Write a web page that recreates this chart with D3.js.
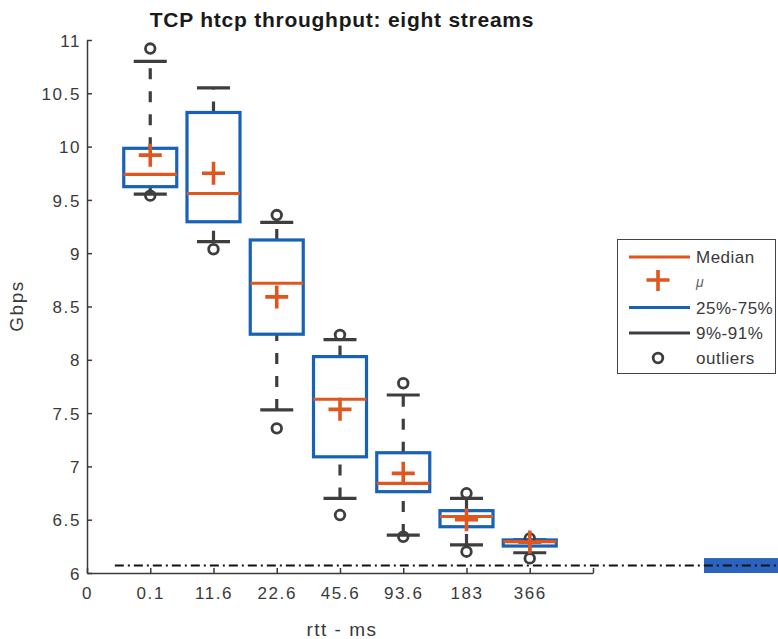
<!DOCTYPE html>
<html>
<head>
<meta charset="utf-8">
<script src="https://cdn.jsdelivr.net/npm/d3@7"></script>
<style>
  html, body { margin: 0; padding: 0; background: #fff; }
  svg { display: block; }
  text { font-family: "Liberation Sans", Arial, Helvetica, sans-serif; }
</style>
</head>
<body>
<svg id="chart" width="778" height="639"></svg>
<script>
// ---- data ----
const categories = ["0.1", "11.6", "22.6", "45.6", "93.6", "183", "366"];
const xTickLabels = ["0", "0.1", "11.6", "22.6", "45.6", "93.6", "183", "366", ""];
const yTicks = [6, 6.5, 7, 7.5, 8, 8.5, 9, 9.5, 10, 10.5, 11];
const q1Values     = [9.624, 9.295, 8.24, 7.09, 6.763, 6.434, 6.253];
const q3Values     = [9.984, 10.32, 9.124, 8.03, 7.128, 6.585, 6.31];
const medianValues = [9.74, 9.56, 8.718, 7.63, 6.84, 6.53, 6.294];
const meanValues   = [9.92, 9.75, 8.59, 7.535, 6.935, 6.5, 6.29];
const whiskerLow   = [9.555, 9.108, 7.53, 6.70, 6.356, 6.263, 6.19];
const whiskerHigh  = [10.80, 10.55, 9.29, 8.19, 7.67, 6.70, 6.31];
const outlierValues = [[10.92, 9.54], [9.037], [9.358, 7.357], [8.233, 6.544], [7.78, 6.34], [6.748, 6.20], [6.325, 6.137]];
const refLineValue = 6.07;
const refLineRange = [0.44, 11];
const patchRange = [9.755, 11];
const patchValues = [6, 6.14];
const legendLabels = ["Median", "\u03bc", "25%-75%", "9%-91%", "outliers"];

// ---- styles ----
const ORANGE = "#e0561f", BLUE = "#1862b6", GRAY = "#3e3e3e", AXIS = "#3a3a3a";

const svg = d3.select("#chart");
const x = d3.scaleLinear().domain([0, 8]).range([87, 593]);
const y = d3.scaleLinear().domain([6, 11]).range([573, 40]);

// axes
const xAxis = d3.axisBottom(x).tickValues(d3.range(0, 9)).tickFormat(i => xTickLabels[i]).tickSizeInner(-5).tickSizeOuter(0).tickPadding(14);
const yAxis = d3.axisLeft(y).tickValues(yTicks).tickFormat(d => d3.format("")(d)).tickSizeInner(-5).tickSizeOuter(0).tickPadding(8);

const gx = svg.append("g").attr("transform", `translate(0,${y(6)})`).call(xAxis);
const gy = svg.append("g").attr("transform", `translate(${x(0)},0)`).call(yAxis);
[gx, gy].forEach(g => {
  g.select(".domain").attr("stroke", AXIS).attr("stroke-width", 1.5);
  g.selectAll(".tick line").attr("stroke", AXIS).attr("stroke-width", 1.5);
  g.selectAll(".tick text").attr("fill", "#3a3a3a").attr("font-size", 17).attr("letter-spacing", 1.6)
    .attr("font-family", '"Liberation Sans", Arial, sans-serif');
});
gy.selectAll(".tick text").attr("x", -6).attr("dy", "0.36em");
gx.selectAll(".tick text").attr("dy", "0.71em");

// reference dash-dot line and patch
svg.append("rect")
  .attr("x", x(patchRange[0])).attr("y", y(patchValues[1]))
  .attr("width", x(patchRange[1]) - x(patchRange[0]))
  .attr("height", y(patchValues[0]) - y(patchValues[1]))
  .attr("fill", "#2b63be");
svg.append("line")
  .attr("x1", x(refLineRange[0])).attr("x2", x(refLineRange[1]))
  .attr("y1", y(refLineValue)).attr("y2", y(refLineValue))
  .attr("stroke", "#111").attr("stroke-width", 2)
  .attr("stroke-dasharray", "9,4,2,4");

// boxes
const boxHalf = 26.5, capHalf = 16.5;
const data = categories.map((c, i) => ({
  i, pos: i + 1, q1: q1Values[i], q3: q3Values[i], med: medianValues[i], mean: meanValues[i],
  lo: whiskerLow[i], hi: whiskerHigh[i], out: outlierValues[i]
}));

const g = svg.append("g");
data.forEach(d => {
  const cx = x(d.pos);
  // whiskers
  g.append("line").attr("x1", cx).attr("x2", cx).attr("y1", y(d.q3)).attr("y2", y(d.hi))
    .attr("stroke", GRAY).attr("stroke-width", 3.2).attr("stroke-dasharray", "11,12");
  g.append("line").attr("x1", cx).attr("x2", cx).attr("y1", y(d.lo)).attr("y2", y(d.q1))
    .attr("stroke", GRAY).attr("stroke-width", 3.2).attr("stroke-dasharray", "11,12");
  // caps
  [d.hi, d.lo].forEach(v => g.append("line")
    .attr("x1", cx - capHalf).attr("x2", cx + capHalf).attr("y1", y(v)).attr("y2", y(v))
    .attr("stroke", GRAY).attr("stroke-width", 3.2));
  // box
  g.append("rect").attr("x", cx - boxHalf).attr("y", y(d.q3))
    .attr("width", boxHalf * 2).attr("height", y(d.q1) - y(d.q3))
    .attr("fill", "none").attr("stroke", BLUE).attr("stroke-width", 3.2);
  // median
  g.append("line").attr("x1", cx - boxHalf).attr("x2", cx + boxHalf).attr("y1", y(d.med)).attr("y2", y(d.med))
    .attr("stroke", ORANGE).attr("stroke-width", 3.2);
  // outliers
  d.out.forEach(v => g.append("circle").attr("cx", cx).attr("cy", y(v)).attr("r", 4.8)
    .attr("fill", "none").attr("stroke", GRAY).attr("stroke-width", 2.8));
  // mean plus
  const my = y(d.mean);
  g.append("path").attr("d", `M${cx - 11.5},${my}H${cx + 11.5}M${cx},${my - 11.5}V${my + 11.5}`)
    .attr("stroke", ORANGE).attr("stroke-width", 3.6).attr("fill", "none");
});

// title & labels
svg.append("text").attr("x", 342).attr("y", 27).attr("text-anchor", "middle")
  .attr("font-size", 21).attr("font-weight", "bold").attr("letter-spacing", 0.75).attr("fill", "#1a1a1a")
  .text("TCP htcp throughput: eight streams");
svg.append("text").attr("transform", "translate(23,306) rotate(-90)").attr("text-anchor", "middle")
  .attr("font-size", 19).attr("letter-spacing", 1.5).attr("fill", "#3a3a3a").text("Gbps");
svg.append("text").attr("x", 342).attr("y", 636).attr("text-anchor", "middle")
  .attr("font-size", 19).attr("letter-spacing", 1.5).attr("fill", "#3a3a3a").text("rtt - ms");

// legend
const lg = svg.append("g");
lg.append("rect").attr("x", 617.5).attr("y", 239.5).attr("width", 158).attr("height", 134)
  .attr("fill", "#fff").attr("stroke", "#444").attr("stroke-width", 1);
const rowY = [257, 282, 307.5, 333, 358];
const lx1 = 629, lx2 = 690, lmx = 658, tx = 696;
lg.append("line").attr("x1", lx1).attr("x2", lx2).attr("y1", rowY[0]).attr("y2", rowY[0]).attr("stroke", ORANGE).attr("stroke-width", 3.2);
lg.append("path").attr("d", `M${lmx - 11.5},${rowY[1] - 2}H${lmx + 11.5}M${lmx},${rowY[1] - 12}V${rowY[1] + 9}`)
  .attr("stroke", ORANGE).attr("stroke-width", 3.6).attr("fill", "none");
lg.append("line").attr("x1", lx1).attr("x2", lx2).attr("y1", rowY[2]).attr("y2", rowY[2]).attr("stroke", BLUE).attr("stroke-width", 3.2);
lg.append("line").attr("x1", lx1).attr("x2", lx2).attr("y1", rowY[3]).attr("y2", rowY[3]).attr("stroke", GRAY).attr("stroke-width", 3.2);
lg.append("circle").attr("cx", lmx).attr("cy", rowY[4]).attr("r", 4.8).attr("fill", "none").attr("stroke", GRAY).attr("stroke-width", 2.8);
legendLabels.forEach((t, i) => {
  const isMu = i === 1;
  lg.append("text").attr("x", tx).attr("y", rowY[i] + (isMu ? 5 : 6))
    .attr("font-size", isMu ? 14 : 17).attr("font-style", isMu ? "italic" : "normal")
    .attr("letter-spacing", isMu ? 0 : 0.5)
    .attr("fill", isMu ? "#666" : "#3a3a3a").text(t);
});
</script>
</body>
</html>
